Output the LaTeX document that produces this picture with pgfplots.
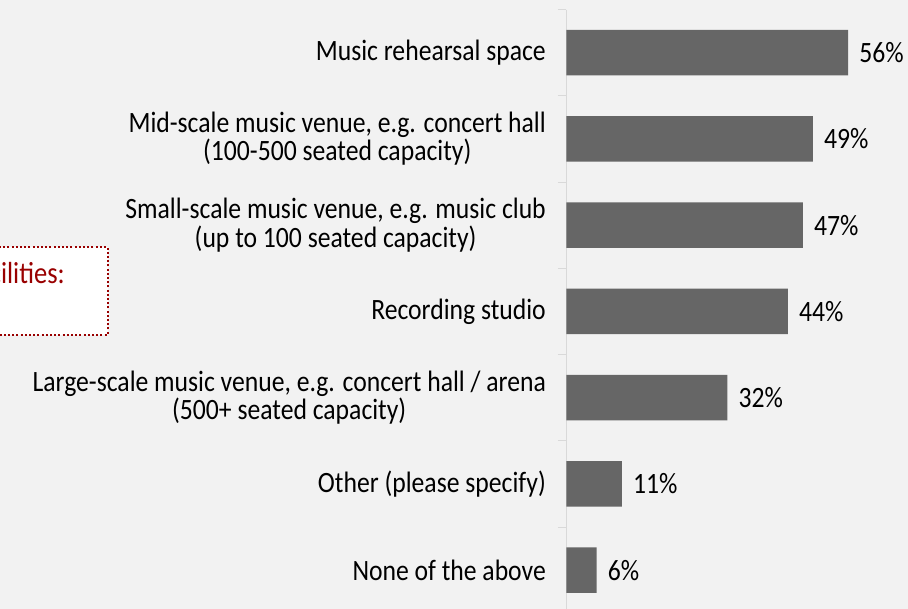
\documentclass[border=0pt]{standalone}
\usepackage{pgfplots}
\pgfplotsset{compat=1.18}
\usepackage{fontspec}
\setmainfont[FakeStretch=0.87]{Carlito}
\definecolor{bg}{HTML}{F2F2F2}
\definecolor{barc}{HTML}{666666}
\definecolor{axc}{HTML}{D9D9D9}
\definecolor{boxred}{HTML}{990000}
\begin{document}
\begin{tikzpicture}[x=1pt,y=1pt]
\useasboundingbox (0,0) rectangle (908,609);
\begin{scope}
\clip (0,0) rectangle (908,609);
\fill[bg] (0,0) rectangle (908,609);
\draw[boxred, fill=white, line width=2pt, dash pattern=on 2pt off 2.2pt] (-30,362) rectangle (107.5,274);
\node[anchor=base east, text=boxred, font=\fontsize{30.5}{32}\selectfont, inner sep=0pt] at (65,325) {facilities:};
\begin{axis}[
  at={(566.5pt,-4.25pt)}, anchor=south west,
  scale only axis, width=301.8pt, height=603.75pt,
  xmin=0, xmax=60, ymin=-0.5, ymax=6.5, y dir=reverse,
  xbar, bar width=45.5pt, bar shift=0pt,
  clip=false,
  axis x line=none, axis y line*=left,
  axis line style={axc, line width=1pt},
  ytick={0,1,2,3,4,5,6},
  yticklabels={{Music rehearsal space},
    {Mid-scale music venue, e.g. concert hall\\(100-500 seated capacity)},
    {Small-scale music venue, e.g. music club\\(up to 100 seated capacity)},
    {Recording studio},
    {Large-scale music venue, e.g. concert hall / arena\\(500+ seated capacity)},
    {Other (please specify)},
    {None of the above}},
  major tick length=0pt,
  minor ytick={-0.5,0.5,1.5,2.5,3.5,4.5,5.5,6.5},
  minor tick length=8.5pt,
  tick align=outside,
  tick style={axc, line width=1pt},
  yticklabel style={align=center, font=\fontsize{29.5}{28.5}\selectfont, inner sep=0pt, xshift=-20.5pt, text=black},
  /pgf/number format/assume math mode=true,
  point meta=x,
  nodes near coords={\pgfmathprintnumber{\pgfplotspointmeta}\%},
  nodes near coords style={anchor=west, inner sep=0pt, xshift=11pt, font=\fontsize{29.5}{28.5}\selectfont, text=black},
]
\addplot[fill=barc, draw=none] coordinates {(56,0) (49,1) (47,2) (44,3) (32,4) (11,5) (6,6)};
\end{axis}
\end{scope}
\end{tikzpicture}
\end{document}
